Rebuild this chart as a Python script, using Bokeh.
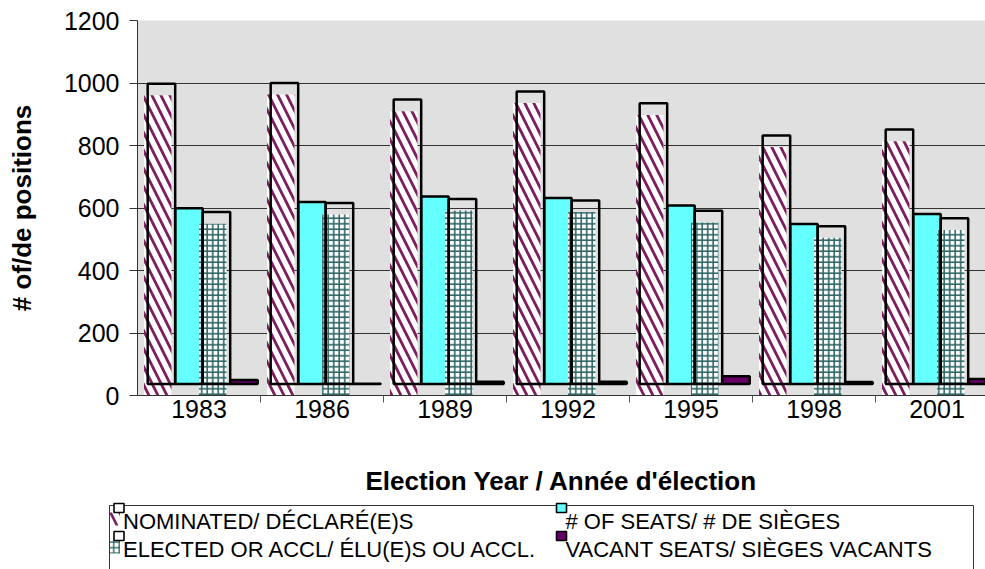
from bokeh.plotting import figure
from bokeh.models import Range1d, FixedTicker
from bokeh.layouts import column
from bokeh.embed import file_html
from bokeh.resources import INLINE
from bokeh.core.properties import value

# ---------------- data ----------------
years = ["1983", "1986", "1989", "1992", "1995", "1998", "2001"]
nominated = [998, 1000, 947, 973, 935, 832, 851]
seats = [599, 619, 637, 632, 608, 549, 581]
elected = [587, 616, 629, 624, 591, 542, 567]
vacant = [50, 38, 44, 44, 62, 43, 53]
y_ticks = [0, 200, 400, 600, 800, 1000, 1200]
series_labels = ["NOMINATED/ DÉCLARÉ(E)S", "# OF SEATS/   # DE SIÈGES",
                 "ELECTED OR ACCL/  ÉLU(E)S OU ACCL.", "VACANT SEATS/ SIÈGES VACANTS"]

# ---------------- styles / layout ----------------
FONT = "Liberation Sans"
PURPLE_HATCH = "#7E1E5E"
TEAL_HATCH = "#2F6666"
CYAN = "#66FFFF"
VACANT = "#660066"
BG = "#E0E0E0"

W = 985
H_MAIN, H_LEG = 500, 69
FRAME_LEFT, FRAME_TOP, FRAME_BOTTOM = 137, 20, 395
CAT_PX = 123
x_end = (W - FRAME_LEFT) / CAT_PX
BAR_W = 0.2236      # bar width in category units
DX = 0.030          # horizontal shift of the framed bars
FLOOR = 37          # vertical shift of the framed bars (value units)

centers = [i + 0.5 for i in range(len(years))]


def pos(k, shift=0.0):
    return [c + (k - 1.5) * BAR_W + shift for c in centers]


p = figure(width=W, height=H_MAIN, x_range=Range1d(0, x_end), y_range=Range1d(0, 1200),
           output_backend="svg", toolbar_location=None,
           min_border_left=FRAME_LEFT, min_border_top=FRAME_TOP, min_border_right=0,
           min_border_bottom=H_MAIN - FRAME_BOTTOM)
p.background_fill_color = BG
p.border_fill_color = "white"
p.outline_line_color = None

p.xgrid.visible = False
p.ygrid.ticker = FixedTicker(ticks=y_ticks)
p.ygrid.grid_line_color = "#333333"
p.ygrid.grid_line_width = 1

# y axis
p.yaxis.ticker = FixedTicker(ticks=y_ticks)
p.yaxis.major_tick_out = 8
p.yaxis.major_tick_in = 0
p.yaxis.minor_tick_line_color = None
p.yaxis.axis_line_color = "#333333"
p.yaxis.major_tick_line_color = "#333333"
p.yaxis.major_label_text_font = FONT
p.yaxis.major_label_text_font_size = "25px"
p.yaxis.major_label_text_color = "black"
p.yaxis.major_label_standoff = 10
p.yaxis.axis_label = "# of/de positions"
p.yaxis.axis_label_text_font = FONT
p.yaxis.axis_label_text_font_style = "bold"
p.yaxis.axis_label_text_font_size = "26px"
p.yaxis.axis_label_text_color = "black"
p.yaxis.axis_label_standoff = 24

# x axis
p.xaxis.ticker = FixedTicker(ticks=centers, minor_ticks=list(range(1, len(years))))
p.xaxis.major_label_overrides = {c: y for c, y in zip(centers, years)}
p.xaxis.major_tick_out = 0
p.xaxis.major_tick_in = 0
p.xaxis.minor_tick_out = 7
p.xaxis.minor_tick_in = 0
p.xaxis.minor_tick_line_color = "#555555"
p.xaxis.axis_line_color = "#333333"
p.xaxis.major_label_text_font = FONT
p.xaxis.major_label_text_font_size = "25px"
p.xaxis.major_label_text_color = "black"
p.xaxis.major_label_standoff = -3
p.xaxis.axis_label = "Election Year / Année d'élection"
p.xaxis.axis_label_text_font = FONT
p.xaxis.axis_label_text_font_style = "bold"
p.xaxis.axis_label_text_font_size = "26px"
p.xaxis.axis_label_text_color = "black"
p.xaxis.axis_label_standoff = 45

# solid-filled bars (drawn in the shifted frame position)
p.vbar(x=pos(1, DX), width=BAR_W, bottom=FLOOR, top=seats, fill_color=CYAN, line_color=None)
p.vbar(x=pos(3, DX), width=BAR_W, bottom=FLOOR, top=vacant, fill_color=VACANT, line_color=None)

# patterned bars (misregistered pattern fill)
p.vbar(x=pos(0), width=BAR_W, bottom=0, top=[v - FLOOR for v in nominated],
       fill_color="white", line_color=None,
       hatch_pattern="left_diagonal_line", hatch_color=PURPLE_HATCH, hatch_weight=2.8, hatch_scale=18)
p.vbar(x=pos(2), width=BAR_W, bottom=0, top=[v - FLOOR for v in elected],
       fill_color="white", line_color=None,
       hatch_pattern="cross", hatch_color=TEAL_HATCH, hatch_weight=1.6, hatch_scale=5.5)

# black frames of every bar
for k, vals in enumerate([nominated, seats, elected, vacant]):
    p.vbar(x=pos(k, DX), width=BAR_W, bottom=FLOOR, top=vals,
           fill_color=None, line_color="black", line_width=2.5)

# ---------------- legend panel (page coordinates) ----------------
top_y = H_MAIN
leg = figure(width=W, height=H_LEG, x_range=Range1d(0, W), y_range=Range1d(top_y + H_LEG, top_y),
             output_backend="svg", toolbar_location=None, x_axis_type=None, y_axis_type=None,
             min_border=0, min_border_left=0, min_border_right=0, min_border_top=0, min_border_bottom=0)
leg.grid.visible = False
leg.outline_line_color = None
leg.background_fill_color = "white"
leg.border_fill_color = "white"

for fig in (p, leg):
    try:
        fig.frame_align = False
    except Exception:
        pass

BOX_L, BOX_R, BOX_T = 109, 973, 505
leg.multi_line(xs=[[BOX_L, BOX_R], [BOX_L, BOX_L], [BOX_R, BOX_R]],
               ys=[[BOX_T, BOX_T], [BOX_T, BOX_T + 90], [BOX_T, BOX_T + 90]],
               line_color="#333333", line_width=1)

col_x = [113.5, 556, 113.5, 556]
row_y = [503, 503, 531, 531]
ISZ = 10
# pattern samples, shifted like the bars' pattern fills
leg.quad(left=[col_x[0] - 4], right=[col_x[0] + 6], top=[row_y[0] + 9], bottom=[row_y[0] + 22],
         fill_color="white", line_color=None, hatch_pattern="left_diagonal_line",
         hatch_color=PURPLE_HATCH, hatch_weight=2.6, hatch_scale=18)
leg.quad(left=[col_x[2] - 4], right=[col_x[2] + 6], top=[row_y[2] + 9], bottom=[row_y[2] + 22],
         fill_color="white", line_color=None, hatch_pattern="cross",
         hatch_color=TEAL_HATCH, hatch_weight=1.4, hatch_scale=5.5)
leg.quad(left=col_x, right=[x + ISZ for x in col_x], top=row_y, bottom=[y + 9 for y in row_y],
         fill_color=["white", CYAN, "white", VACANT], line_color="black", line_width=1.6)
leg.text(x=[x + ISZ - 1 for x in col_x], y=[y + 18 for y in row_y], text=series_labels,
         text_baseline="middle", text_align="left", text_font=value(FONT),
         text_font_size="22px", text_color="black")

layout = column(p, leg)
open("out.html", "w").write(file_html(layout, INLINE))
